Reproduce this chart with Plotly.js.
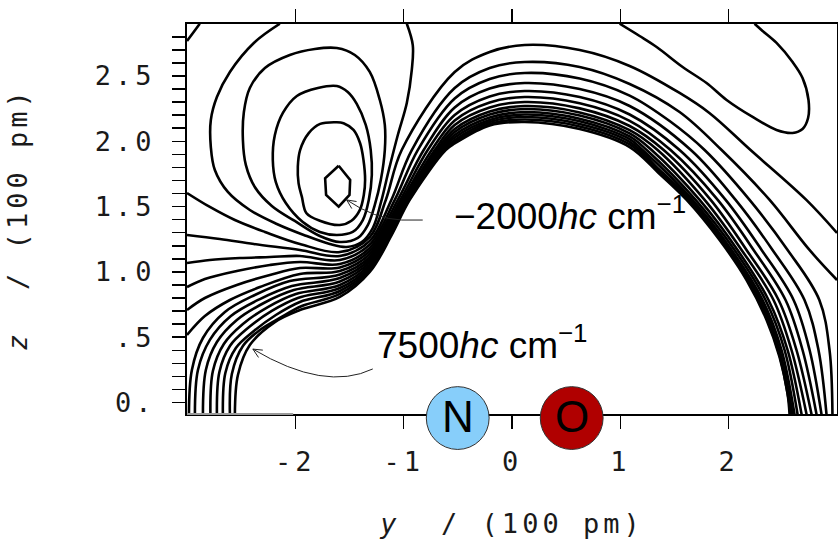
<!DOCTYPE html>
<html><head><meta charset="utf-8">
<script src="https://cdn.plot.ly/plotly-3.0.1.min.js"></script>
<style>
html,body{margin:0;padding:0;background:#fff;}
#chart{width:838px;height:540px;}
.xtick text,.ytick text{letter-spacing:4px;}
.xtitle,.ytitle{letter-spacing:4px;}
</style></head><body><div id="chart"></div>
<script>
// Axis ticks
const xTickVals = [-2, -1, 0, 1, 2];
const xTickText = ['-2', '-1', '0', '1', '2'];
const yTickVals = [0, 0.5, 1.0, 1.5, 2.0, 2.5];
const yTickText = ['0.', '.5', '1.0', '1.5', '2.0', '2.5'];
const xRange = [-3, 3];
const yRange = [-0.088, 2.898];

// Repulsive-wall contours (outer -> inner, inner = 7500 hc cm-1), y and z in 100 pm
const w01x = [-3.0, -2.789, -2.558, -2.281, -1.958, -1.589, -1.313, -1.165, -1.018, -0.529, -0.206, 0.117, 0.625, 1.086, 1.547, 1.822, 2.202, 2.717, 3.0];
const w01y = [1.604, 1.497, 1.397, 1.306, 1.214, 1.152, 1.267, 1.551, 1.933, 2.531, 2.684, 2.737, 2.699, 2.577, 2.370, 2.217, 1.933, 1.551, 1.298];
const w02x = [-3.0, -2.697, -2.383, -1.958, -1.589, -1.313, -1.114, -0.925, -0.529, -0.206, 0.117, 0.625, 1.086, 1.547, 1.935, 2.378, 2.746, 3.0];
const w02y = [1.283, 1.252, 1.214, 1.168, 1.122, 1.237, 1.551, 1.933, 2.408, 2.561, 2.607, 2.569, 2.439, 2.224, 1.933, 1.551, 1.168, 0.938];
const w03x = [-3.0, -2.789, -2.512, -2.235, -1.958, -1.589, -1.313, -1.082, -0.870, -0.529, -0.206, 0.117, 0.625, 1.086, 1.455, 1.778, 2.193, 2.544, 2.837, 2.931, 2.958];
const w03y = [1.068, 1.091, 1.106, 1.114, 1.122, 1.091, 1.210, 1.551, 1.933, 2.328, 2.477, 2.523, 2.481, 2.350, 2.155, 1.933, 1.551, 1.168, 0.785, 0.402, -0.09];
const w04x = [-3.0, -2.835, -2.540, -2.235, -1.958, -1.589, -1.313, -1.054, -0.815, -0.529, -0.206, 0.117, 0.625, 1.086, 1.651, 2.064, 2.405, 2.700, 2.829, 2.903];
const w04y = [0.884, 0.946, 1.007, 1.053, 1.076, 1.060, 1.183, 1.551, 1.933, 2.259, 2.404, 2.446, 2.400, 2.270, 1.933, 1.551, 1.168, 0.785, 0.402, -0.09];
const w05x = [-3.0, -2.835, -2.540, -2.235, -1.958, -1.589, -1.313, -1.031, -0.778, -0.529, -0.206, 0.117, 0.625, 1.086, 1.547, 1.972, 2.304, 2.599, 2.747, 2.857];
const w05y = [0.708, 0.800, 0.900, 0.976, 1.030, 1.034, 1.160, 1.551, 1.933, 2.201, 2.343, 2.385, 2.339, 2.205, 1.933, 1.551, 1.168, 0.785, 0.402, -0.09];
const w06x = [-3.0, -2.835, -2.604, -2.327, -1.958, -1.589, -1.313, -1.211, -1.013, -0.741, -0.529, -0.206, 0.117, 0.625, 1.086, 1.464, 1.899, 2.230, 2.525, 2.682, 2.811];
const w06y = [0.517, 0.662, 0.785, 0.884, 0.984, 1.007, 1.137, 1.283, 1.551, 1.933, 2.159, 2.297, 2.339, 2.291, 2.157, 1.933, 1.551, 1.168, 0.785, 0.402, -0.09];
const w07x = [-2.982, -2.955, -2.853, -2.650, -2.374, -2.051, -1.589, -1.313, -1.197, -0.999, -0.713, -0.529, -0.206, 0.117, 0.625, 1.086, 1.400, 1.834, 2.165, 2.461, 2.626, 2.765];
const w07y = [-0.09, 0.249, 0.494, 0.693, 0.823, 0.930, 0.980, 1.114, 1.283, 1.551, 1.933, 2.125, 2.259, 2.301, 2.252, 2.117, 1.933, 1.551, 1.168, 0.785, 0.402, -0.09];
const w08x = [-2.927, -2.899, -2.789, -2.595, -2.327, -2.032, -1.589, -1.313, -1.184, -0.990, -0.695, -0.529, -0.206, 0.117, 0.625, 1.086, 1.344, 1.778, 2.119, 2.414, 2.580, 2.719];
const w08y = [-0.09, 0.249, 0.479, 0.662, 0.792, 0.892, 0.953, 1.095, 1.283, 1.551, 1.933, 2.094, 2.228, 2.270, 2.221, 2.085, 1.933, 1.551, 1.168, 0.785, 0.402, -0.09];
const w09x = [-2.853, -2.826, -2.724, -2.540, -2.291, -2.014, -1.589, -1.313, -1.170, -0.981, -0.676, -0.529, -0.206, 0.117, 0.625, 1.086, 1.289, 1.732, 2.082, 2.368, 2.544, 2.673];
const w09y = [-0.09, 0.249, 0.463, 0.632, 0.762, 0.861, 0.926, 1.076, 1.283, 1.551, 1.933, 2.071, 2.205, 2.247, 2.197, 2.060, 1.933, 1.551, 1.168, 0.785, 0.402, -0.09];
const w10x = [-2.784, -2.761, -2.660, -2.484, -2.254, -1.995, -1.589, -1.313, -1.156, -0.971, -0.662, -0.529, -0.206, 0.117, 0.625, 1.086, 1.243, 1.695, 2.054, 2.340, 2.516, 2.636];
const w10y = [-0.09, 0.241, 0.448, 0.601, 0.731, 0.831, 0.900, 1.057, 1.283, 1.551, 1.933, 2.048, 2.182, 2.224, 2.173, 2.037, 1.933, 1.551, 1.168, 0.785, 0.402, -0.09];
const w11x = [-2.724, -2.701, -2.604, -2.438, -2.217, -1.977, -1.589, -1.313, -1.142, -0.964, -0.649, -0.529, -0.206, 0.117, 0.625, 1.086, 1.206, 1.667, 2.027, 2.313, 2.488, 2.608];
const w11y = [-0.09, 0.234, 0.433, 0.570, 0.701, 0.800, 0.877, 1.041, 1.283, 1.551, 1.933, 2.029, 2.163, 2.205, 2.153, 2.017, 1.933, 1.551, 1.168, 0.785, 0.402, -0.09];
const w12x = [-2.669, -2.646, -2.549, -2.383, -2.180, -1.958, -1.589, -1.313, -1.128, -0.958, -0.637, -0.529, -0.206, 0.117, 0.625, 1.086, 1.363, 1.651, 2.008, 2.294, 2.470, 2.590];
const w12y = [-0.09, 0.226, 0.417, 0.547, 0.670, 0.770, 0.854, 1.026, 1.283, 1.551, 1.933, 2.010, 2.148, 2.186, 2.133, 1.996, 1.780, 1.551, 1.168, 0.785, 0.402, -0.09];
const w13x = [-2.604, -2.586, -2.484, -2.327, -2.143, -1.940, -1.589, -1.313, -1.119, -0.951, -0.625, -0.529, -0.206, 0.117, 0.625, 1.086, 1.363, 1.630, 1.995, 2.276, 2.456, 2.576];
const w13y = [-0.09, 0.218, 0.433, 0.555, 0.647, 0.739, 0.831, 1.011, 1.283, 1.551, 1.933, 1.995, 2.132, 2.167, 2.114, 1.976, 1.765, 1.551, 1.168, 0.785, 0.402, -0.09];
const w14x = [-2.558, -2.530, -2.420, -2.189, -1.958, -1.589, -1.313, -1.110, -0.944, -0.612, -0.529, -0.206, 0.117, 0.625, 1.086, 1.363, 1.612, 1.916, 2.165, 2.350, 2.470, 2.543, 2.562];
const w14y = [-0.09, 0.211, 0.440, 0.616, 0.708, 0.808, 0.999, 1.283, 1.551, 1.933, 1.983, 2.121, 2.148, 2.094, 1.956, 1.750, 1.551, 1.244, 0.938, 0.632, 0.348, 0.073, -0.09];

// Well contours around the minimum (inner = -2000 hc cm-1)
const wellAx = [-1.60, -1.494, -1.50, -1.60, -1.716, -1.725, -1.60];
const wellAy = [1.813, 1.704, 1.589, 1.499, 1.589, 1.717, 1.813];
const wellBx = [-1.617, -1.771, -1.878, -1.956, -1.977, -1.970, -1.940, -1.897, -1.774, -1.590, -1.482, -1.405, -1.368, -1.356, -1.371, -1.402, -1.463, -1.555, -1.617];
const wellBy = [2.146, 2.133, 2.061, 1.933, 1.806, 1.678, 1.576, 1.449, 1.392, 1.359, 1.392, 1.473, 1.589, 1.704, 1.857, 1.985, 2.087, 2.138, 2.146];
const wellCx = [-1.617, -1.792, -1.986, -2.115, -2.189, -2.208, -2.180, -2.088, -1.931, -1.774, -1.617, -1.470, -1.377, -1.322, -1.294, -1.304, -1.350, -1.433, -1.516, -1.617];
const wellCy = [2.423, 2.408, 2.347, 2.217, 2.048, 1.857, 1.688, 1.528, 1.382, 1.306, 1.283, 1.306, 1.397, 1.551, 1.742, 1.933, 2.125, 2.286, 2.377, 2.423];
const wellDx = [-1.617, -1.820, -2.051, -2.281, -2.420, -2.475, -2.484, -2.457, -2.374, -2.217, -2.005, -1.774, -1.589, -1.423, -1.331, -1.267, -1.211, -1.174, -1.174, -1.220, -1.313, -1.451, -1.617];
const wellDy = [2.714, 2.707, 2.661, 2.561, 2.408, 2.224, 2.010, 1.819, 1.650, 1.505, 1.390, 1.275, 1.229, 1.260, 1.359, 1.512, 1.704, 1.933, 2.125, 2.316, 2.531, 2.661, 2.714];
const wellEx = [-2.143, -2.383, -2.604, -2.724, -2.780, -2.780, -2.743, -2.623, -2.420, -2.171, -1.922, -1.682, -1.525, -1.387, -1.285, -1.211, -1.137, -1.054, -0.971, -0.925, -0.916, -0.971];
const wellEy = [2.90, 2.753, 2.531, 2.339, 2.163, 1.956, 1.780, 1.612, 1.474, 1.367, 1.283, 1.214, 1.191, 1.229, 1.336, 1.528, 1.780, 2.048, 2.293, 2.546, 2.737, 2.90];
// Top-right tongue and top-left corner contours
const tongueX = [0.994, 1.178, 1.335, 1.575, 1.796, 1.981, 2.221, 2.442, 2.590, 2.682, 2.733, 2.737, 2.682, 2.590, 2.442, 2.313, 2.239];
const tongueY = [2.90, 2.806, 2.722, 2.569, 2.446, 2.316, 2.186, 2.087, 2.064, 2.094, 2.178, 2.316, 2.485, 2.607, 2.753, 2.845, 2.90];
const cornerX = [-3.0, -2.94, -2.882];
const cornerY = [2.768, 2.835, 2.90];

// Atoms of the NO molecule
const atomX = [-0.501, 0.551];
const atomY = [-0.119, -0.119];
const atomLabel = ['N', 'O'];
const atomColor = ['#87cefa', '#b00000'];
const atomRadius = 0.29;   // in units of 100 pm along y

const lineStyle = {color: '#000', width: 2.6, shape: 'spline', smoothing: 1};
const curves = [
  [w01x, w01y], [w02x, w02y], [w03x, w03y], [w04x, w04y], [w05x, w05y], [w06x, w06y], [w07x, w07y],
  [w08x, w08y], [w09x, w09y], [w10x, w10y], [w11x, w11y], [w12x, w12y], [w13x, w13y], [w14x, w14y],
  [wellBx, wellBy], [wellCx, wellCy], [wellDx, wellDy], [wellEx, wellEy],
  [tongueX, tongueY], [cornerX, cornerY]
];
const traces = curves.map(([x, y]) => ({
  type: 'scatter', mode: 'lines', x: x, y: y, line: lineStyle, hoverinfo: 'skip', showlegend: false
}));
traces.push({type: 'scatter', mode: 'lines', x: wellAx, y: wellAy,
  line: {color: '#000', width: 2.6, shape: 'linear'}, hoverinfo: 'skip', showlegend: false});

// atoms: x through the data axis, y converted to paper fraction (they sit below the axis floor)
const plotH = 540 - 24 - 126, plotW = 838 - 187 - 1;
const yToPaper = v => (v - yRange[0]) / (yRange[1] - yRange[0]);
const rPaperY = atomRadius * (plotW / (xRange[1] - xRange[0])) / plotH;
const atomShapes = atomX.map((x, i) => ({
  type: 'circle', xref: 'x', yref: 'paper', layer: 'above',
  x0: x - atomRadius, x1: x + atomRadius,
  y0: yToPaper(atomY[i]) - rPaperY, y1: yToPaper(atomY[i]) + rPaperY,
  fillcolor: atomColor[i], line: {color: '#333', width: 1}
}));
const atomNotes = atomX.map((x, i) => ({
  x: x, y: yToPaper(atomY[i]) + 0.004, xref: 'x', yref: 'paper', showarrow: false,
  xanchor: 'center', yanchor: 'middle', text: atomLabel[i],
  font: {family: 'Liberation Sans, Arial, sans-serif', size: 44, color: '#000'}
}));

const monoFont = {family: 'DejaVu Sans Mono, monospace', size: 27, color: '#1a1a1a'};
const labelFont = {family: 'Liberation Sans, Arial, sans-serif', size: 37, color: '#000'};
const layout = {
  width: 838, height: 540,
  margin: {l: 187, r: 1, t: 24, b: 126},
  paper_bgcolor: '#fff', plot_bgcolor: '#fff',
  showlegend: false,
  xaxis: {
    range: xRange, tickmode: 'array', tickvals: xTickVals, ticktext: xTickText,
    ticks: 'outside', ticklen: 13, tickwidth: 1.5, tickcolor: '#000',
    showline: true, linewidth: 2, linecolor: '#000', mirror: 'ticks',
    showgrid: false, zeroline: false, layer: 'below traces',
    tickfont: monoFont, ticklabelstandoff: 10,
    title: {text: '\u00a0<i>y</i>\u00a0\u00a0/ (100 pm)', font: monoFont, standoff: 38}
  },
  yaxis: {
    range: yRange, tickmode: 'array', tickvals: yTickVals, ticktext: yTickText,
    ticks: 'outside', ticklen: 13, tickwidth: 1.5, tickcolor: '#000',
    minor: {tickmode: 'linear', tick0: 0, dtick: 0.1, ticks: 'outside', ticklen: 13, tickwidth: 1.5, tickcolor: '#000'},
    showline: true, linewidth: 2, linecolor: '#000', mirror: 'ticks',
    showgrid: false, zeroline: false, layer: 'below traces',
    tickfont: monoFont, ticklabelstandoff: 11,
    title: {text: '\u00a0<i>z</i>\u00a0\u00a0/ (100 pm)', font: monoFont, standoff: 59}
  },
  shapes: [
    {type: 'line', xref: 'x', yref: 'paper', x0: -3, x1: -2.02, y0: 0, y1: 0, layer: 'above',
     line: {color: '#9a9a9a', width: 2}},
    {type: 'path', xref: 'x', yref: 'y', path: 'M -0.824,1.397 L -1.018,1.397 Q -1.267,1.405 -1.526,1.551',
     line: {color: '#222', width: 1}},
    {type: 'path', xref: 'x', yref: 'y', path: 'M -1.479,1.485 L -1.526,1.551 L -1.435,1.539',
     line: {color: '#222', width: 1}},
    {type: 'path', xref: 'x', yref: 'y', path: 'M -1.285,0.257 Q -1.728,0.081 -2.392,0.409',
     line: {color: '#222', width: 1}},
    {type: 'path', xref: 'x', yref: 'y', path: 'M -2.340,0.345 L -2.392,0.409 L -2.300,0.401',
     line: {color: '#222', width: 1}}
  ].concat(atomShapes),
  annotations: [
    {x: -0.556, y: 1.450, xref: 'x', yref: 'y', xanchor: 'left', yanchor: 'middle', showarrow: false,
     text: '\u22122000<i>hc</i> cm<sup>\u22121</sup>', font: labelFont},
    {x: -1.264, y: 0.463, xref: 'x', yref: 'y', xanchor: 'left', yanchor: 'middle', showarrow: false,
     text: '7500<i>hc</i> cm<sup>\u22121</sup>', font: labelFont}
  ].concat(atomNotes)
};
Plotly.newPlot('chart', traces, layout, {staticPlot: true, displayModeBar: false});
</script>
</body></html>
